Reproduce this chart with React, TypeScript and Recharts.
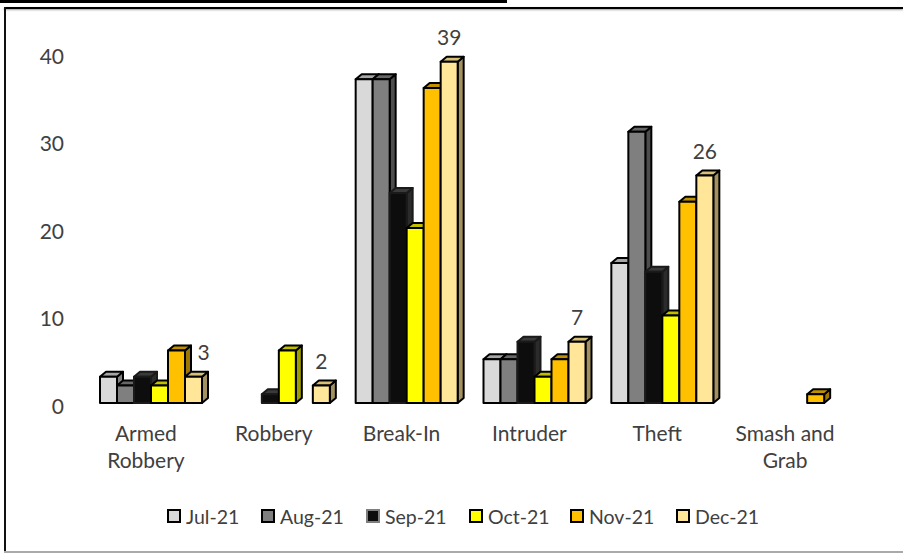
import React from "react";
import { BarChart, Bar, XAxis, YAxis, Legend, LabelList } from "recharts";

const categories = ["Armed Robbery", "Robbery", "Break-In", "Intruder", "Theft", "Smash and Grab"];
const months = ["Jul-21", "Aug-21", "Sep-21", "Oct-21", "Nov-21", "Dec-21"];
const jul = [3, null, 37, 5, 16, null];
const aug = [2, null, 37, 5, 31, null];
const sep = [3, 1, 24, 7, 15, null];
const oct = [2, 6, 20, 3, 10, null];
const nov = [6, null, 36, 5, 23, 1];
const dec = [3, 2, 39, 7, 26, null];
const seriesValues = [jul, aug, sep, oct, nov, dec];
const yTicks = [0, 10, 20, 30, 40];

const data = categories.map((name, i) => {
  const row: Record<string, any> = { name };
  months.forEach((m, j) => (row[m] = seriesValues[j][i]));
  return row;
});

const FONT = "Lato, 'Noto Sans', sans-serif";
const TEXT = "#404040";
const faces = [
  { front: "#D9D9D9", top: "#A6A6A6", side: "#808080", stroke: "#000000" },
  { front: "#7F7F7F", top: "#666666", side: "#4D4D4D", stroke: "#000000" },
  { front: "#0D0D0D", top: "#3A3A3A", side: "#2B2B2B", stroke: "#1A1A1A" },
  { front: "#FFFF00", top: "#BFBF00", side: "#9E9E00", stroke: "#000000" },
  { front: "#FFC000", top: "#BF9000", side: "#9E7700", stroke: "#000000" },
  { front: "#FFE699", top: "#D6C078", side: "#A3925F", stroke: "#000000" },
];

const DX = 6;
const DY = 5;

function Bar3D(props: any) {
  const { x, y, width, height, value, face } = props;
  const v = Array.isArray(value) ? value[1] : value;
  if (v == null) return null;
  const r = x + width;
  const b = y + height;
  return (
    <g stroke={face.stroke} strokeWidth={2} strokeLinejoin="round">
      <polygon points={`${r},${y} ${r + DX},${y - DY} ${r + DX},${b - DY} ${r},${b}`} fill={face.side} />
      <polygon points={`${x},${y} ${x + DX},${y - DY} ${r + DX},${y - DY} ${r},${y}`} fill={face.top} />
      <rect x={x} y={y} width={width} height={height} fill={face.front} />
    </g>
  );
}

function YTick({ y, payload }: any) {
  return (
    <text x={64} y={y + 2} textAnchor="end" dominantBaseline="central" fontFamily={FONT} fontSize={21} fill={TEXT}>
      {payload.value}
    </text>
  );
}

const wrapped: Record<string, string[]> = {
  "Armed Robbery": ["Armed", "Robbery"],
  "Smash and Grab": ["Smash and", "Grab"],
};

function XTick({ x, payload }: any) {
  const lines = wrapped[payload.value] ?? [payload.value];
  return (
    <text textAnchor="middle" fontFamily={FONT} fontSize={21} fill={TEXT}>
      {lines.map((l, i) => (
        <tspan key={l} x={x - 5} y={441 + i * 27}>
          {l}
        </tspan>
      ))}
    </text>
  );
}

function EndLabel({ x, y, width, value, index }: any) {
  if (value == null) return null;
  const shift = index === 0 ? 10 : 0;
  return (
    <text x={x + width / 2 + shift} y={y - 25} textAnchor="middle" dominantBaseline="central" fontFamily={FONT} fontSize={21} fill={TEXT}>
      {value}
    </text>
  );
}

function SmashLabel({ x, y, width, value, index }: any) {
  if (value == null || index !== 5) return null;
  return <EndLabel x={x} y={y} width={width} value={value} index={index} />;
}

function LegendRow() {
  return (
    <div style={{ display: "flex", justifyContent: "flex-start", alignItems: "center", height: 24, fontFamily: FONT, fontSize: 19.5, color: TEXT }}>
      {months.map((m, i) => (
        <span key={m} style={{ position: "absolute", left: [167, 261, 366, 469, 570, 676][i], display: "flex", alignItems: "center" }}>
          <span
            style={{
              display: "inline-block",
              boxSizing: "border-box",
              width: 14,
              height: 14,
              background: faces[i].front,
              border: `2px solid ${i === 2 ? "#7F7F7F" : "#000"}`,
              marginRight: 5,
            }}
          />
          {m}
        </span>
      ))}
    </div>
  );
}

export default function App() {
  return (
    <div style={{ position: "absolute", left: 0, top: 0, width: 903, height: 554, overflow: "hidden", background: "#fff" }}>
      <div style={{ position: "absolute", left: 0, top: 0, width: 507, height: 3, background: "#000" }} />
      <div style={{ position: "absolute", left: 4, top: 7, width: 899, height: 2, background: "#000", boxShadow: "0 1px 2px #999" }} />
      <div style={{ position: "absolute", left: 4, top: 7, width: 2, height: 545, background: "#111" }} />
      <div style={{ position: "absolute", left: 4, top: 551, width: 899, height: 2, background: "#aaa" }} />
      <BarChart
        width={903}
        height={554}
        data={data}
        margin={{ top: 53, right: 49, left: 0, bottom: 61 }}
        barSize={17}
        barGap={0}
        style={{ position: "absolute", left: 0, top: 0 }}
      >
        <XAxis dataKey="name" axisLine={false} tickLine={false} interval={0} height={66} tick={<XTick />} />
        <YAxis domain={[0, 40]} ticks={yTicks} width={87} axisLine={false} tickLine={false} tick={<YTick />} interval={0} />
        <Legend
          layout="horizontal"
          verticalAlign="bottom"
          height={24}
          content={<LegendRow />}
          wrapperStyle={{ position: "absolute", left: 0, top: 504, bottom: "auto", width: 903, height: 24 }}
        />
        {months.map((m, i) => (
          <Bar
            key={m}
            dataKey={m}
            isAnimationActive={false}
            fill={faces[i].front}
            shape={(p: any) => <Bar3D {...p} face={faces[i]} />}
          >
            {i === 5 && <LabelList dataKey={m} content={<EndLabel />} />}
            {i === 4 && <LabelList dataKey={m} content={<SmashLabel />} />}
          </Bar>
        ))}
      </BarChart>
    </div>
  );
}
